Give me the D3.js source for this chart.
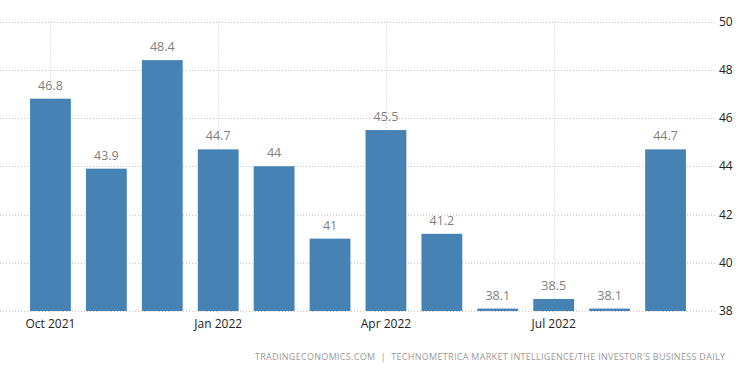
<!DOCTYPE html>
<html><head><meta charset="utf-8">
<script src="https://cdn.jsdelivr.net/npm/d3@7"></script>
<style>body{margin:0;background:#fff}svg{display:block}</style>
</head><body><svg id="c" width="750" height="373"></svg>
<script>
const months = ["Oct 2021","Nov 2021","Dec 2021","Jan 2022","Feb 2022","Mar 2022","Apr 2022","May 2022","Jun 2022","Jul 2022","Aug 2022","Sep 2022"];
const values = [46.8,43.9,48.4,44.7,44,41,45.5,41.2,38.1,38.5,38.1,44.7];
const valueLabels = ["46.8","43.9","48.4","44.7","44","41","45.5","41.2","38.1","38.5","38.1","44.7"];
const tickLabels = ["Oct 2021","Jan 2022","Apr 2022","Jul 2022"];
const yTicks = [38,40,42,44,46,48,50];
const source = "TRADINGECONOMICS.COM  |  TECHNOMETRICA MARKET INTELLIGENCE/THE INVESTOR'S BUSINESS DAILY";

const svg = d3.select("#c");
const font = "'Open Sans', 'Segoe UI', sans-serif";
const x = d3.scaleBand().domain(months).range([22.5, 693.5]).paddingInner(0.27).paddingOuter(0.135);
const y = d3.scaleLinear().domain([38, 50]).range([311, 21.5]);
const gridRight = 715;

// horizontal gridlines
svg.append("g").selectAll("line").data(yTicks).join("line")
  .attr("x1", 0).attr("x2", gridRight)
  .attr("y1", d => Math.round(y(d)) + 0.5).attr("y2", d => Math.round(y(d)) + 0.5)
  .attr("stroke", "#c8c8c8").attr("stroke-dasharray", "1,2");

// vertical gridlines
svg.append("g").selectAll("line").data(tickLabels).join("line")
  .attr("x1", d => Math.round(x(d) + x.bandwidth()/2) + 0.5)
  .attr("x2", d => Math.round(x(d) + x.bandwidth()/2) + 0.5)
  .attr("y1", y(50)).attr("y2", y(38) + 4)
  .attr("stroke", "#c8c8c8").attr("stroke-dasharray", "1,2");

// bars
svg.append("g").selectAll("rect").data(values).join("rect")
  .attr("x", (d, i) => x(months[i]))
  .attr("width", x.bandwidth())
  .attr("y", d => y(d))
  .attr("height", d => Math.max(0, y(38) - y(d)))
  .attr("fill", "#4682b4");

// value labels
svg.append("g").selectAll("text").data(values).join("text")
  .attr("x", (d, i) => x(months[i]) + x.bandwidth()/2)
  .attr("y", d => y(d) - 9)
  .attr("text-anchor", "middle")
  .attr("font-family", font).attr("font-size", 12.5)
  .attr("fill", "#7f7f7f")
  .text((d, i) => valueLabels[i]);

// y axis labels (right)
svg.append("g").selectAll("text").data(yTicks).join("text")
  .attr("x", 719).attr("y", d => y(d)).attr("dy", "0.35em")
  .attr("font-family", font).attr("font-size", 12)
  .attr("fill", "#222")
  .text(d => d);

// x axis labels
svg.append("g").selectAll("text").data(tickLabels).join("text")
  .attr("x", d => x(d) + x.bandwidth()/2).attr("y", 328)
  .attr("text-anchor", "middle")
  .attr("font-family", font).attr("font-size", 12)
  .attr("fill", "#222")
  .text(d => d);

// source
svg.append("text")
  .attr("x", 255).attr("y", 360)
  .attr("textLength", 470).attr("lengthAdjust", "spacing")
  .attr("font-family", font).attr("font-size", 9)
  .attr("fill", "#999")
  .attr("xml:space", "preserve")
  .text(source);
</script></body></html>
